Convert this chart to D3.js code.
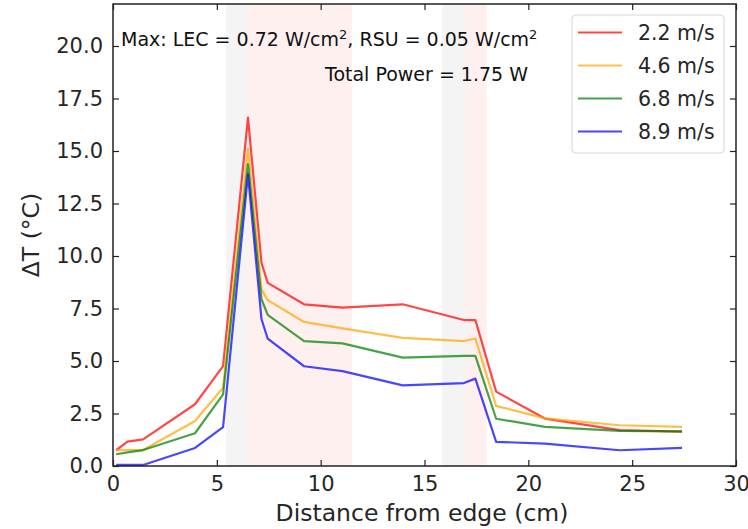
<!DOCTYPE html>
<html>
<head>
<meta charset="utf-8">
<script src="https://cdn.jsdelivr.net/npm/d3@7"></script>
<style>
  body { margin: 0; background: #fff; }
  svg { display: block; font-family: "DejaVu Sans", sans-serif; }
</style>
</head>
<body>
<svg id="chart" width="748" height="529"></svg>
<script>
// ---- data ----
const distance = [0.15, 0.7, 1.45, 3.95, 5.3, 6.5, 7.15, 7.45, 9.2, 11.05, 13.95, 16.9, 17.45, 18.45, 20.8, 24.4, 27.4];
const v22 = [0.75, 1.16, 1.27, 2.94, 4.76, 16.59, 9.68, 8.72, 7.7, 7.54, 7.7, 6.95, 6.95, 3.54, 2.26, 1.71, 1.64];
const v46 = [0.76, 0.76, 0.76, 2.14, 3.73, 15.13, 8.4, 7.9, 6.86, 6.55, 6.1, 5.95, 6.07, 2.86, 2.27, 1.94, 1.86];
const v68 = [0.56, 0.65, 0.76, 1.56, 3.41, 14.37, 7.94, 7.2, 5.95, 5.84, 5.16, 5.24, 5.24, 2.25, 1.86, 1.67, 1.65];
const v89 = [0.05, 0.05, 0.05, 0.86, 1.85, 13.89, 7.0, 6.06, 4.75, 4.52, 3.84, 3.95, 4.16, 1.15, 1.07, 0.75, 0.86];
const seriesNames = ["2.2 m/s", "4.6 m/s", "6.8 m/s", "8.9 m/s"];
const seriesValues = [v22, v46, v68, v89];
const seriesColors = ["red", "orange", "green", "blue"];
const grayBands = [[5.45, 6.45], [15.85, 16.95]];
const pinkBands = [[6.45, 11.5], [16.95, 18.0]];
const xTicks = [0, 5, 10, 15, 20, 25, 30];
const yTicks = [0, 2.5, 5, 7.5, 10, 12.5, 15, 17.5, 20];
const annotation1 = ["Max: LEC = 0.72 W/cm", "2", ", RSU = 0.05 W/cm", "2"];
const annotation2 = "Total Power = 1.75 W";

// ---- layout ----
const svg = d3.select("#chart");
const L = 113, R = 736, T = 4, B = 466;
const x = d3.scaleLinear().domain([0, 30]).range([L, R]);
const y = d3.scaleLinear().domain([0, 22]).range([B, T]);

// bands
const bandG = svg.append("g");
grayBands.forEach(b => bandG.append("rect")
  .attr("x", x(b[0])).attr("y", T).attr("width", x(b[1]) - x(b[0])).attr("height", B - T)
  .attr("fill", "#f4f4f4"));
pinkBands.forEach(b => bandG.append("rect")
  .attr("x", x(b[0])).attr("y", T).attr("width", x(b[1]) - x(b[0])).attr("height", B - T)
  .attr("fill", "#fff0f0"));

// lines
const line = d3.line().x((d, i) => x(distance[i])).y(d => y(d));
seriesValues.forEach((vals, k) => {
  svg.append("path").datum(vals).attr("d", line)
    .attr("fill", "none").attr("stroke", seriesColors[k])
    .attr("stroke-opacity", 0.72).attr("stroke-width", 2.2)
    .attr("stroke-linejoin", "round");
});

// axes (ticks inward on all sides)
const tickLen = 6;
const axisColor = "#222";
const tfs = 21;
const lfs = 23.5;
const gBottom = svg.append("g").attr("transform", `translate(0,${B})`)
  .call(d3.axisBottom(x).tickValues(xTicks).tickSizeInner(-tickLen).tickSizeOuter(0).tickPadding(8).tickFormat(d3.format("d")));
const gTop = svg.append("g").attr("transform", `translate(0,${T})`)
  .call(d3.axisTop(x).tickValues(xTicks).tickSizeInner(-tickLen).tickSizeOuter(0).tickFormat(""));
const gLeft = svg.append("g").attr("transform", `translate(${L},0)`)
  .call(d3.axisLeft(y).tickValues(yTicks).tickSizeInner(-tickLen).tickSizeOuter(0).tickPadding(10).tickFormat(d3.format(".1f")));
const gRight = svg.append("g").attr("transform", `translate(${R},0)`)
  .call(d3.axisRight(y).tickValues(yTicks).tickSizeInner(-tickLen).tickSizeOuter(0).tickFormat(""));
[gBottom, gTop, gLeft, gRight].forEach(g => {
  g.select(".domain").remove();
  g.selectAll(".tick line").attr("stroke", axisColor).attr("stroke-width", 1.2);
  g.selectAll(".tick text").attr("fill", "#262626").attr("font-size", tfs)
    .attr("font-family", "DejaVu Sans, sans-serif");
});
gBottom.selectAll(".tick text").attr("dy", "0.8em");
svg.append("rect").attr("x", L).attr("y", T).attr("width", R - L).attr("height", B - T)
  .attr("fill", "none").attr("stroke", axisColor).attr("stroke-width", 1.5);

// axis labels
svg.append("text").attr("x", 422).attr("y", 521).attr("text-anchor", "middle")
  .attr("font-size", lfs).attr("fill", "#262626").text("Distance from edge (cm)");
svg.append("text").attr("transform", `translate(39,${(T + B) / 2}) rotate(-90)`)
  .attr("text-anchor", "middle").attr("font-size", lfs).attr("fill", "#262626").text("ΔT (°C)");

// annotations
const afs = 19;
const a1 = svg.append("text").attr("x", 121).attr("y", 46).attr("font-size", afs).attr("fill", "#111");
a1.append("tspan").text(annotation1[0]);
a1.append("tspan").attr("font-size", 13).attr("dy", -7).text(annotation1[1]);
a1.append("tspan").attr("dy", 7).text(annotation1[2]);
a1.append("tspan").attr("font-size", 13).attr("dy", -7).text(annotation1[3]);
svg.append("text").attr("x", 528).attr("y", 81).attr("text-anchor", "end")
  .attr("font-size", afs).attr("fill", "#111").text(annotation2);

// legend
const lg = svg.append("g");
lg.append("rect").attr("x", 572).attr("y", 15).attr("width", 152).attr("height", 138)
  .attr("rx", 4).attr("fill", "white").attr("fill-opacity", 0.85)
  .attr("stroke", "#d6d6d6").attr("stroke-width", 1);
seriesNames.forEach((name, k) => {
  const yy = 32.5 + k * 33;
  lg.append("line").attr("x1", 578).attr("x2", 622).attr("y1", yy).attr("y2", yy)
    .attr("stroke", seriesColors[k]).attr("stroke-opacity", 0.72).attr("stroke-width", 2.2);
  lg.append("text").attr("x", 638).attr("y", yy).attr("dy", "0.35em")
    .attr("font-size", 20.5).attr("fill", "#262626").text(name);
});
</script>
</body>
</html>
